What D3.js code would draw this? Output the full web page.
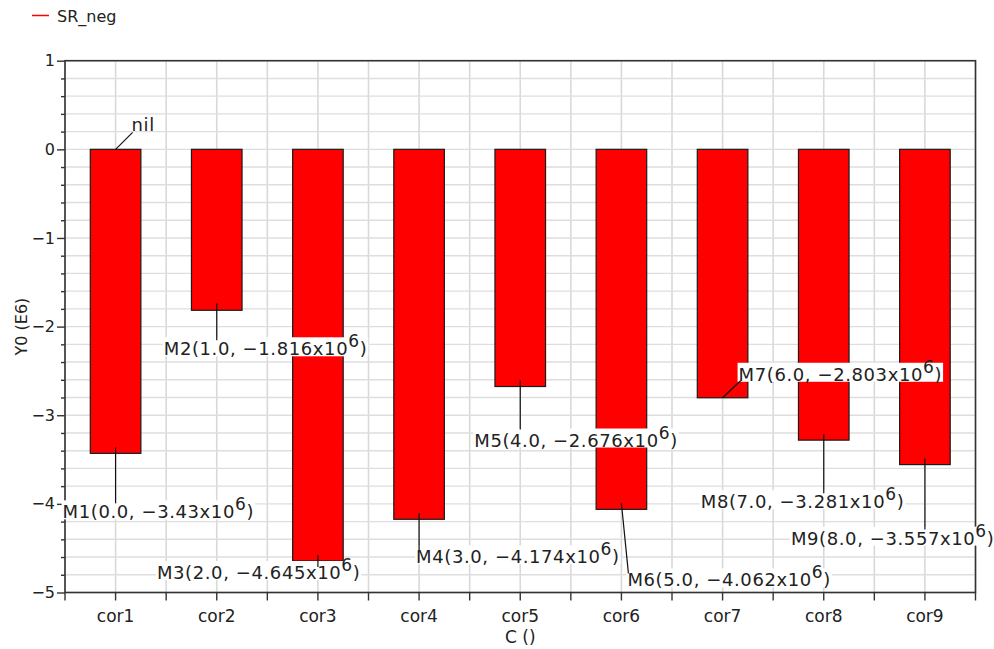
<!DOCTYPE html>
<html>
<head>
<meta charset="utf-8">
<script src="https://cdn.jsdelivr.net/npm/d3@7"></script>
<style>
  body { margin: 0; background: #fff; }
  svg { display: block; }
  text { font-family: "DejaVu Sans", sans-serif; fill: #222; }
</style>
</head>
<body>
<svg id="chart" width="994" height="649"></svg>
<script>
// ---- data ----
const seriesName = "SR_neg";
const categories = ["cor1", "cor2", "cor3", "cor4", "cor5", "cor6", "cor7", "cor8", "cor9"];
const values = [-3.43e6, -1.816e6, -4.645e6, -4.174e6, -2.676e6, -4.062e6, -2.803e6, -3.281e6, -3.557e6];
const markerNames = ["M1", "M2", "M3", "M4", "M5", "M6", "M7", "M8", "M9"];
const yTickValues = [1, 0, -1, -2, -3, -4, -5];
const yDomain = [-5, 1];
const xTitle = "C ()";
const yTitle = "Y0 (E6)";
const nilNote = { category: "cor1", value: 0, text: "nil" };

// ---- label placement (pixel offsets from each marker point) ----
// tx,ty: text start/baseline; ex,ey: leader end; sy: leader start
const labelLayout = [
  { tx: -53, ty: 65, ex: 0, ey: 50, sy: -6 },
  { tx: -53, ty: 45, ex: 0, ey: 30, sy: -7 },
  { tx: -161, ty: 18, ex: 0, ey: 6, sy: -6 },
  { tx: -3, ty: 44, ex: 0, ey: 31, sy: -6 },
  { tx: -46, ty: 60, ex: 0, ey: 43, sy: -6 },
  { tx: 6, ty: 77, ex: 7, ey: 64, sy: -6 },
  { tx: 16, ty: -17, ex: 18, ey: -17, sy: 0 },
  { tx: -123, ty: 68, ex: 0, ey: 53, sy: -6 },
  { tx: -134, ty: 80, ex: 0, ey: 65, sy: -6 }
];
const nilLayout = { tx: 16, ty: -18, ex: 17, ey: -17, sy: 0 };

// ---- layout ----
const plot = { left: 65, right: 975.5, top: 60.7, bottom: 592.5 };
const svg = d3.select("#chart");

const x = d3.scaleBand()
  .domain(categories)
  .range([plot.left, plot.right])
  .paddingInner(0.5)
  .paddingOuter(0.25);

const y = d3.scaleLinear().domain(yDomain).range([plot.bottom, plot.top]);

const step = x.step();
const cx = c => x(c) + x.bandwidth() / 2;

// ---- grid ----
const grid = svg.append("g").attr("class", "grid");
const vLines = [];
categories.forEach(c => { vLines.push(x(c) - (step - x.bandwidth()) / 2); vLines.push(cx(c)); });
vLines.push(plot.right);
grid.selectAll("line.v").data(vLines).join("line")
  .attr("class", "v")
  .attr("x1", d => d).attr("x2", d => d)
  .attr("y1", plot.top).attr("y2", plot.bottom)
  .attr("stroke", "#d9d9d9").attr("stroke-width", 1.6);

const minorTicks = d3.range(yDomain[0] * 5, yDomain[1] * 5 + 1).map(k => k / 5);
grid.selectAll("line.h").data(minorTicks).join("line")
  .attr("class", "h")
  .attr("x1", plot.left).attr("x2", plot.right)
  .attr("y1", d => y(d)).attr("y2", d => y(d))
  .attr("stroke", "#dedede").attr("stroke-width", 1.4);

// ---- bars ----
svg.append("g").selectAll("rect").data(values).join("rect")
  .attr("x", (d, i) => x(categories[i]))
  .attr("width", x.bandwidth())
  .attr("y", d => Math.min(y(0), y(d / 1e6)))
  .attr("height", d => Math.abs(y(d / 1e6) - y(0)))
  .attr("fill", "#ff0000")
  .attr("stroke", "#1a1a1a")
  .attr("stroke-width", 1.2);

// ---- axes ----
const yAxis = d3.axisLeft(y).tickValues(yTickValues).tickSize(8)
  .tickFormat(d => String(d).replace("-", "\u2212"));
const gy = svg.append("g").attr("transform", `translate(${plot.left},0)`).call(yAxis);
gy.select(".domain").remove();
gy.selectAll(".tick line").attr("stroke", "#333").attr("stroke-width", 1.4);
gy.selectAll(".tick text").attr("x", -10).style("font-size", "16px").attr("fill", "#222");

const yMinor = d3.axisLeft(y).tickValues(minorTicks.filter(t => !Number.isInteger(t)))
  .tickSize(4).tickFormat("");
const gym = svg.append("g").attr("transform", `translate(${plot.left},0)`).call(yMinor);
gym.select(".domain").remove();
gym.selectAll(".tick line").attr("stroke", "#333").attr("stroke-width", 1.4);

const xTickPos = vLines.slice();
svg.append("g").selectAll("line").data(xTickPos).join("line")
  .attr("x1", d => d).attr("x2", d => d)
  .attr("y1", plot.bottom).attr("y2", plot.bottom + 8)
  .attr("stroke", "#333").attr("stroke-width", 1.4);

svg.append("g").selectAll("text").data(categories).join("text")
  .attr("x", d => cx(d))
  .attr("y", 622)
  .attr("text-anchor", "middle")
  .style("font-size", "17px")
  .text(d => d);

// frame
svg.append("rect")
  .attr("x", plot.left).attr("y", plot.top)
  .attr("width", plot.right - plot.left).attr("height", plot.bottom - plot.top)
  .attr("fill", "none").attr("stroke", "#333").attr("stroke-width", 1.6);

// titles
svg.append("text")
  .attr("x", (plot.left + plot.right) / 2).attr("y", 643)
  .attr("text-anchor", "middle").style("font-size", "17px")
  .text(xTitle);
svg.append("text")
  .attr("transform", `translate(27,${(plot.top + plot.bottom) / 2}) rotate(-90)`)
  .attr("text-anchor", "middle").style("font-size", "16px")
  .text(yTitle);

// legend
svg.append("line").attr("x1", 32).attr("x2", 49).attr("y1", 15.5).attr("y2", 15.5)
  .attr("stroke", "#ff0000").attr("stroke-width", 1.5);
svg.append("text").attr("x", 57).attr("y", 22).style("font-size", "16px").text(seriesName);

// ---- marker annotations ----
const fmtVal = v => String(+(v / 1e6).toFixed(3)).replace("-", "\u2212");
const notes = values.map((v, i) => ({
  px: cx(categories[i]), py: y(v / 1e6), lay: labelLayout[i],
  parts: [`${markerNames[i]}(${i.toFixed(1)}, ${fmtVal(v)}x10`, "6", ")"]
}));
notes.push({
  px: cx(nilNote.category), py: y(nilNote.value), lay: nilLayout, parts: [nilNote.text]
});

const ann = svg.append("g").attr("class", "annotations");
const boxes = ann.append("g");
const leaders = ann.append("g");
const labels = ann.append("g");

notes.forEach(n => {
  const tx = n.px + n.lay.tx, ty = n.py + n.lay.ty;
  const t = labels.append("text")
    .attr("x", tx).attr("y", ty)
    .style("font-size", "18px")
    .style("letter-spacing", "0.6px");
  t.append("tspan").text(n.parts[0]);
  if (n.parts.length > 1) {
    t.append("tspan").attr("dy", -8).style("font-size", "17px").text(n.parts[1]);
    t.append("tspan").attr("dy", 8).text(n.parts[2]);
  }
  const w = t.node().getComputedTextLength();
  if (n.parts.length > 1) {
    boxes.append("rect")
      .attr("x", tx - 1).attr("y", ty - 18)
      .attr("width", w + 2).attr("height", 19)
      .attr("fill", "#fff");
  }
  leaders.append("line")
    .attr("x1", n.px).attr("y1", n.py + n.lay.sy)
    .attr("x2", n.px + n.lay.ex).attr("y2", n.py + n.lay.ey)
    .attr("stroke", "#111").attr("stroke-width", 1.2);
});
</script>
</body>
</html>
